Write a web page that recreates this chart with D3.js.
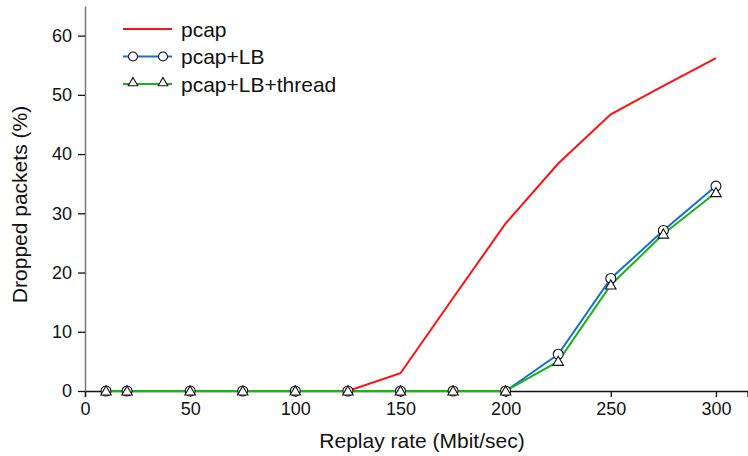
<!DOCTYPE html>
<html>
<head>
<meta charset="utf-8">
<script src="https://d3js.org/d3.v7.min.js"></script>
<style>
  body { margin: 0; background: #fff; }
  text { font-family: "Liberation Sans", Arial, sans-serif; fill: #111; }
</style>
</head>
<body>
<div id="my_dataviz"></div>
<script>

  // data
  var rates = [10, 20, 50, 75, 100, 125, 150, 175, 200, 225, 250, 275, 300];
  var pcap = [0, 0, 0, 0, 0, 0, 3.0, 15.7, 28.3, 38.4, 46.7, 51.5, 56.2];
  var pcapLB = [0, 0, 0, 0, 0, 0, 0, 0, 0, 6.2, 19.0, 27.1, 34.6];
  var pcapLBthread = [0, 0, 0, 0, 0, 0, 0, 0, 0, 5.0, 17.9, 26.5, 33.5];
  var xTicks = [0, 50, 100, 150, 200, 250, 300];
  var yTicks = [0, 10, 20, 30, 40, 50, 60];

  var series = [
    {name: "pcap", values: pcap, color: "#ff1010", marker: null},
    {name: "pcap+LB", values: pcapLB, color: "#1570d0", marker: "circle"},
    {name: "pcap+LB+thread", values: pcapLBthread, color: "#18b418", marker: "triangle"}
  ];

  var margin = {top: 6, right: 0, bottom: 65, left: 85},
      width = 748 - margin.left - margin.right,
      height = 456 - margin.top - margin.bottom;

  var svg = d3.select("#my_dataviz")
    .append("svg")
      .attr("width", 748)
      .attr("height", 456)
    .append("g")
      .attr("transform", "translate(" + margin.left + "," + margin.top + ")");

  var x = d3.scaleLinear().domain([0, 315]).range([0, width - 0.5]);
  var y = d3.scaleLinear().domain([0, 65]).range([height, 0]);

  // X axis
  var xAxis = svg.append("g")
    .attr("transform", "translate(0," + height + ")")
    .call(d3.axisBottom(x).tickValues(xTicks).tickSize(6).tickPadding(5));
  xAxis.select(".domain").attr("stroke", "#111").attr("stroke-width", 1.3);
  xAxis.selectAll(".tick line").attr("stroke", "#111").attr("stroke-width", 1.3);
  xAxis.selectAll("text").style("font-size", "18px");

  // Y axis
  var yAxis = svg.append("g")
    .call(d3.axisLeft(y).tickValues(yTicks).tickSize(7).tickPadding(6).tickSizeOuter(0));
  yAxis.select(".domain").attr("stroke", "#777").attr("stroke-width", 1.5);
  yAxis.selectAll(".tick line").attr("stroke", "#111").attr("stroke-width", 1.3);
  yAxis.selectAll("text").style("font-size", "18px");

  // axis titles
  svg.append("text")
    .attr("x", 337).attr("y", height + 57)
    .attr("text-anchor", "middle")
    .style("font-size", "21px")
    .text("Replay rate (Mbit/sec)");
  svg.append("text")
    .attr("transform", "translate(-58," + (height / 2 + 6) + ") rotate(-90)")
    .attr("text-anchor", "middle")
    .style("font-size", "21px")
    .text("Dropped packets (%)");

  var line = d3.line()
    .x(function(d) { return x(d[0]); })
    .y(function(d) { return y(d[1]); });

  var circle = d3.symbol().type(d3.symbolCircle).size(78);
  var tri = d3.symbol().type(d3.symbolTriangle).size(48);

  series.forEach(function(s) {
    var pts = rates.map(function(r, i) { return [r, s.values[i]]; });
    svg.append("path")
      .datum(pts)
      .attr("fill", "none")
      .attr("stroke", s.color)
      .attr("stroke-width", 2)
      .attr("d", line);
  });

  // markers drawn on top
  series.forEach(function(s) {
    if (!s.marker) return;
    var pts = rates.map(function(r, i) { return [r, s.values[i]]; });
    svg.selectAll(null)
      .data(pts)
      .enter().append("path")
      .attr("transform", function(d) { return "translate(" + x(d[0]) + "," + (y(d[1]) + (s.marker === "triangle" ? 1 : 0)) + ")"; })
      .attr("d", s.marker === "circle" ? circle : tri)
      .attr("fill", "#fff")
      .attr("stroke", "#111")
      .attr("stroke-width", 1.1);
  });

  // legend
  var legend = svg.append("g").attr("transform", "translate(38,23)");
  series.forEach(function(s, i) {
    var g = legend.append("g").attr("transform", "translate(0," + (i * 27.5) + ")");
    g.append("line")
      .attr("x1", 0).attr("x2", 49)
      .attr("stroke", s.color).attr("stroke-width", 2);
    if (s.marker) {
      [10, 40].forEach(function(mx) {
        g.append("path")
          .attr("transform", "translate(" + mx + "," + (s.marker === "triangle" ? -1 : 0) + ")")
          .attr("d", s.marker === "circle" ? d3.symbol().type(d3.symbolCircle).size(64) : d3.symbol().type(d3.symbolTriangle).size(40))
          .attr("fill", "#fff")
          .attr("stroke", "#111")
          .attr("stroke-width", 1.1);
      });
    }
    g.append("text")
      .attr("x", 58).attr("y", 7.5)
      .style("font-size", "21px")
      .text(s.name);
  });

</script>
</body>
</html>
